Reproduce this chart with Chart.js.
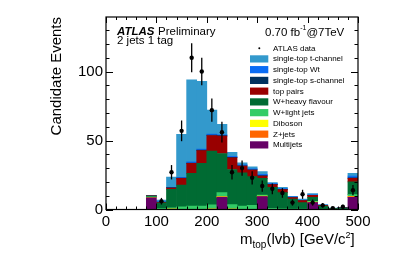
<!DOCTYPE html>
<html>
<head>
<meta charset="utf-8">
<script src="https://cdn.jsdelivr.net/npm/chart.js@4.4.1/dist/chart.umd.min.js"></script>
<style>
  html, body { margin: 0; padding: 0; background: #fff; }
  #wrap { width: 409px; height: 256px; }
</style>
</head>
<body>
<div id="wrap"><canvas id="c" width="409" height="256"></canvas></div>
<script>
// 20 GeV bins, centres from 10 to 490
const binCentres = [10, 30, 50, 70, 90, 110, 130, 150, 170, 190, 210, 230, 250, 270, 290, 310, 330, 350, 370, 390, 410, 430, 450, 470, 490];

// stacked MC (bottom to top)
const multijets = [0, 0, 0, 0, 8.5, 0, 0, 0, 0, 0, 0, 8.8, 0, 0, 0, 9.3, 0, 0, 0, 0, 5.0, 0, 0, 0, 8.8];
const zjets     = [0, 0, 0, 0, 0, 0.2, 0.3, 0.2, 0.2, 0.2, 0.3, 0.3, 0.3, 0.2, 0.2, 0.3, 0.1, 0.1, 0, 0, 0.2, 0, 0, 0, 0.5];
const diboson   = [0, 0, 0, 0, 0, 0, 0, 0, 0, 0, 0, 0.1, 0, 0, 0, 0.1, 0, 0, 0, 0, 0.1, 0, 0, 0, 0.3];
const wlight    = [0, 0, 0, 0, 0.6, 0.4, 1.0, 1.8, 2.2, 2.2, 3.0, 3.0, 3.2, 2.3, 2.8, 0.8, 0.6, 0.4, 0.3, 0.3, 0.7, 0.2, 0.1, 0.1, 1.2];
const wheavy    = [0, 0, 0, 0, 0.6, 4.2, 13.3, 15.7, 23.8, 31.0, 39.0, 28.4, 25.5, 24.1, 20.8, 12.0, 15.3, 11.7, 7.2, 4.7, 2.8, 2.3, 0.6, 1.0, 9.2];
const ttbar     = [0, 0, 0, 0, 0.2, 0.4, 1.0, 4.9, 7.2, 9.3, 11.3, 12.6, 8.5, 4.8, 4.8, 1.7, 2.0, 2.2, 1.2, 1.5, 1.4, 0.5, 0.2, 0.2, 2.5];
const schan     = [0, 0, 0, 0, 0, 0.1, 0.2, 0.2, 0.3, 0.3, 0.3, 0.3, 0.3, 0.3, 0.2, 0.3, 0.2, 0.2, 0.1, 0.1, 0.1, 0, 0, 0, 0.5];
const wtchan    = [0, 0, 0, 0, 0, 0.3, 0.3, 0.5, 0.9, 0.8, 0.8, 0.7, 0.7, 0.6, 0.6, 0.9, 0.5, 0.5, 0.3, 0.3, 0.4, 0.2, 0, 0.1, 1.2];
const tchan     = [0, 0, 0, 0, 0.3, 1.2, 7.4, 31.2, 59.4, 49.0, 17.3, 7.5, 3.0, 1.6, 1.6, 2.0, 0.8, 0.9, 0.4, 0.6, 0.8, 0.3, 0.1, 0.1, 2.0];

// ATLAS data and its error bars
const dataCounts = [null, null, null, null, null, 6, 27, 57, 110, 100, 72, 56, 27, 30, 23, 17, 15, 12, 5, 11, 5, 3, 1, 2, 14];
const dataErrors = [0, 0, 0, 0, 0, 2.4, 5.2, 7.5, 10.5, 10, 8.5, 7.5, 5.2, 5.5, 4.8, 4.1, 3.9, 3.5, 2.2, 3.3, 2.2, 1.7, 1, 1.4, 3.7];

const xTicks = [0, 100, 200, 300, 400, 500];
const yTicks = [0, 50, 100];

const FONT = '"Liberation Sans", Arial, sans-serif';

// legend order (top to bottom)
const legendItems = [
  { label: 'single-top t-channel', color: '#3399cc', data: tchan },
  { label: 'single-top Wt', color: '#0a6cf5', data: wtchan },
  { label: 'single-top s-channel', color: '#00315f', data: schan },
  { label: 'top pairs', color: '#990000', data: ttbar },
  { label: 'W+heavy flavour', color: '#006b33', data: wheavy },
  { label: 'W+light jets', color: '#33cc66', data: wlight },
  { label: 'Diboson', color: '#ffff00', data: diboson },
  { label: 'Z+jets', color: '#ff6600', data: zjets },
  { label: 'Multijets', color: '#660066', data: multijets }
];

const barSets = legendItems.slice().reverse().map(it => ({
  type: 'bar',
  label: it.label,
  data: it.data,
  backgroundColor: it.color,
  borderWidth: 0,
  stack: 'mc',
  barPercentage: 1.0,
  categoryPercentage: 1.0,
  order: 2
}));

const dataSet = {
  type: 'line',
  label: 'ATLAS data',
  data: dataCounts,
  showLine: false,
  stack: 'data',
  pointRadius: 2.2,
  pointHoverRadius: 2.2,
  pointBackgroundColor: '#000',
  pointBorderColor: '#000',
  pointBorderWidth: 0,
  order: 1
};

function drawTicks(ctx, a, x, y) {
  ctx.strokeStyle = '#000';
  ctx.lineWidth = 1;
  // x ticks (bottom and top), minor every 20
  for (let v = 0; v <= 500; v += 20) {
    const px = Math.round(x.getPixelForValue(v)) + 0.5;
    const len = (v % 100 === 0) ? 6 : 3;
    ctx.beginPath();
    ctx.moveTo(px, a.bottom); ctx.lineTo(px, a.bottom - len);
    ctx.moveTo(px, a.top); ctx.lineTo(px, a.top + len);
    ctx.stroke();
  }
  // y ticks (left and right), minor every 10
  for (let v = 0; v <= 130; v += 10) {
    const py = Math.round(y.getPixelForValue(v)) + 0.5;
    const len = (v % 50 === 0) ? 7 : 3.5;
    ctx.beginPath();
    ctx.moveTo(a.left, py); ctx.lineTo(a.left + len, py);
    ctx.moveTo(a.right, py); ctx.lineTo(a.right - len, py);
    ctx.stroke();
  }
  ctx.lineWidth = 1.2;
  ctx.strokeRect(a.left, a.top, a.right - a.left, a.bottom - a.top);
}

const decor = {
  id: 'decor',
  afterDatasetsDraw(chart) {
    const ctx = chart.ctx;
    const y = chart.scales.y;
    const meta = chart.getDatasetMeta(chart.data.datasets.length - 1);
    ctx.save();
    ctx.strokeStyle = '#000';
    ctx.lineWidth = 1.3;
    dataCounts.forEach((v, i) => {
      if (v === null) return;
      const px = meta.data[i].x;
      ctx.beginPath();
      ctx.moveTo(px, y.getPixelForValue(v + dataErrors[i]));
      ctx.lineTo(px, y.getPixelForValue(Math.max(0, v - dataErrors[i])));
      ctx.stroke();
    });
    ctx.restore();
  },
  afterDraw(chart) {
    const ctx = chart.ctx;
    const a = chart.chartArea;
    ctx.save();
    drawTicks(ctx, a, chart.scales.x, chart.scales.y);

    ctx.fillStyle = '#000';
    ctx.textBaseline = 'alphabetic';
    ctx.textAlign = 'left';

    // ATLAS Preliminary
    ctx.font = 'italic bold 11.5px ' + FONT;
    ctx.fillText('ATLAS', 117, 35);
    ctx.font = '11.5px ' + FONT;
    ctx.fillText('Preliminary', 158, 35);
    ctx.fillText('2 jets 1 tag', 117, 44);

    // luminosity
    let lx = 265;
    ctx.fillText('0.70 fb', lx, 35.5);
    lx += ctx.measureText('0.70 fb').width;
    ctx.font = '7px ' + FONT;
    ctx.fillText('-1', lx, 30);
    lx += ctx.measureText('-1').width;
    ctx.font = '11.5px ' + FONT;
    ctx.fillText('@7TeV', lx, 35.5);

    // legend
    ctx.font = '8px ' + FONT;
    ctx.textBaseline = 'middle';
    ctx.fillStyle = '#000';
    ctx.beginPath();
    ctx.arc(259.3, 48.3, 1, 0, Math.PI * 2);
    ctx.fill();
    ctx.fillText('ATLAS data', 273, 48.5);
    legendItems.forEach((it, i) => {
      const cy = 58.9 + i * 10.75;
      ctx.fillStyle = it.color;
      ctx.fillRect(250, cy - 3.6, 18.3, 7.2);
      ctx.fillStyle = '#000';
      ctx.fillText(it.label, 273, cy + 0.3);
    });

    // x axis title: m_top(lvb) [GeV/c^2]
    ctx.textBaseline = 'alphabetic';
    let tx = 240;
    ctx.font = '15px ' + FONT;
    ctx.fillText('m', tx, 244);
    tx += ctx.measureText('m').width;
    ctx.font = '10px ' + FONT;
    ctx.fillText('top', tx, 248);
    tx += ctx.measureText('top').width;
    ctx.font = '15px ' + FONT;
    ctx.fillText('(lvb) [GeV/c', tx, 244);
    tx += ctx.measureText('(lvb) [GeV/c').width;
    ctx.font = '9px ' + FONT;
    ctx.fillText('2', tx, 237.5);
    tx += ctx.measureText('2').width;
    ctx.font = '15px ' + FONT;
    ctx.fillText(']', tx, 244);
    ctx.restore();
  }
};

const chart = new Chart(document.getElementById('c').getContext('2d'), {
  type: 'bar',
  data: {
    labels: binCentres,
    datasets: [...barSets, dataSet]
  },
  options: {
    responsive: false,
    animation: false,
    events: [],
    layout: { padding: { left: 0, right: 51, top: 17, bottom: 0 } },
    plugins: { legend: { display: false }, tooltip: { enabled: false } },
    scales: {
      x: {
        type: 'linear',
        min: 0,
        max: 500,
        offset: false,
        stacked: true,
        grid: { display: false, drawTicks: false },
        border: { display: false },
        afterBuildTicks: (s) => { s.ticks = xTicks.map(v => ({ value: v })); },
        ticks: { color: '#000', font: { family: FONT, size: 15 }, padding: 3, maxRotation: 0, autoSkip: false },
        afterFit: (s) => { s.height = 46.5; }
      },
      y: {
        min: 0,
        max: 139.5,
        stacked: true,
        grid: { display: false, drawTicks: false },
        border: { display: false },
        afterBuildTicks: (s) => { s.ticks = yTicks.map(v => ({ value: v })); },
        ticks: { color: '#000', font: { family: FONT, size: 15 }, padding: 3 },
        title: {
          display: true,
          text: 'Candidate Events',
          color: '#000',
          align: 'end',
          font: { family: FONT, size: 15 },
          padding: { top: 48, bottom: 0 }
        },
        afterFit: (s) => { s.width = 106; }
      }
    }
  },
  plugins: [decor]
});
</script>
</body>
</html>
